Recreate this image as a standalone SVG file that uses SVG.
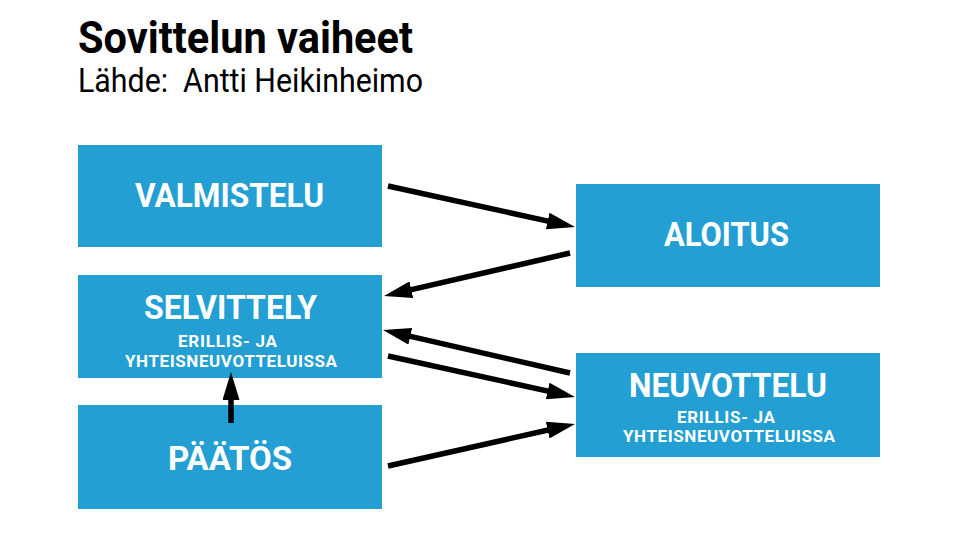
<svg xmlns="http://www.w3.org/2000/svg" width="958" height="539" viewBox="0 0 958 539">
<defs>
<style>
.box{fill:#239fd4}
.t{font-family:"Roboto","Liberation Sans",sans-serif;font-weight:bold;fill:#ffffff}
.big{font-size:34px}
.small{font-size:17px}
.hd{font-family:"Roboto","Liberation Sans",sans-serif;fill:#000000}
.conn{stroke:#000000;stroke-width:5.5;fill:none;marker-end:url(#ah)}
</style>
<marker id="ah" viewBox="0 0 28 17" refX="12" refY="8.5" markerWidth="28" markerHeight="17" markerUnits="userSpaceOnUse" orient="auto">
<path d="M0,0 L28,8.5 L0,17 z" fill="#000000"/>
</marker>
</defs>
<rect width="958" height="539" fill="#ffffff"/>
<g id="title">
<text class="hd" x="78" y="53" font-size="44" font-weight="bold" textLength="335" lengthAdjust="spacingAndGlyphs">Sovittelun vaiheet</text>
<text class="hd" x="78" y="92" font-size="33" textLength="345" lengthAdjust="spacingAndGlyphs" xml:space="preserve">Lähde:  Antti Heikinheimo</text>
</g>
<g id="valmistelu">
<rect class="box" x="78" y="145" width="304" height="102"/>
<text class="t big" x="135" y="207" textLength="189" lengthAdjust="spacingAndGlyphs">VALMISTELU</text>
</g>
<g id="selvittely">
<rect class="box" x="78" y="275" width="304" height="103"/>
<text class="t big" x="144" y="319" textLength="173" lengthAdjust="spacingAndGlyphs">SELVITTELY</text>
<text class="t small" x="178" y="347" textLength="99" lengthAdjust="spacing">ERILLIS- JA</text>
<text class="t small" x="125" y="367" textLength="212" lengthAdjust="spacing">YHTEISNEUVOTTELUISSA</text>
</g>
<g id="paatos">
<rect class="box" x="78" y="405" width="304" height="104"/>
<text class="t big" x="168" y="470" textLength="124" lengthAdjust="spacingAndGlyphs">PÄÄTÖS</text>
</g>
<g id="aloitus">
<rect class="box" x="576" y="184" width="304" height="103"/>
<text class="t big" x="664" y="246" textLength="125" lengthAdjust="spacingAndGlyphs">ALOITUS</text>
</g>
<g id="neuvottelu">
<rect class="box" x="576" y="353" width="304" height="104"/>
<text class="t big" x="629" y="397" textLength="198" lengthAdjust="spacingAndGlyphs">NEUVOTTELU</text>
<text class="t small" x="677" y="423" textLength="98" lengthAdjust="spacing">ERILLIS- JA</text>
<text class="t small" x="623" y="442" textLength="212" lengthAdjust="spacing">YHTEISNEUVOTTELUISSA</text>
</g>
<g id="connectors">
<line class="conn" x1="388" y1="186" x2="559.4" y2="223.6"/>
<line class="conn" x1="570" y1="253" x2="399.6" y2="292.4"/>
<line class="conn" x1="570" y1="373" x2="398.6" y2="333.6"/>
<line class="conn" x1="388" y1="356" x2="559.4" y2="393.6"/>
<line class="conn" x1="388" y1="466" x2="559.4" y2="427.5"/>
<line class="conn" x1="231" y1="423" x2="231" y2="388"/>
</g>
</svg>
